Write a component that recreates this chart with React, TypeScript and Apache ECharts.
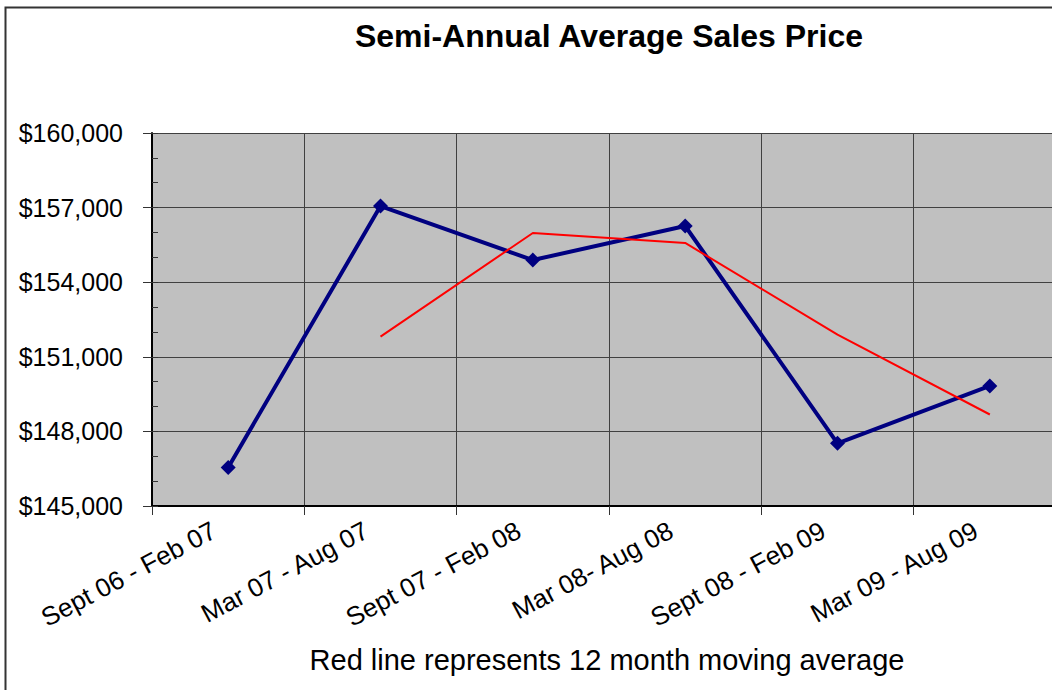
import React, { useEffect, useRef } from "react";
import * as echarts from "echarts";

const categories = [
  "Sept 06 - Feb 07",
  "Mar 07 - Aug 07",
  "Sept 07 - Feb 08",
  "Mar 08- Aug 08",
  "Sept 08 - Feb 09",
  "Mar 09 - Aug 09",
];
const avgPrice = [146550, 157060, 154890, 156260, 147520, 149830];
const movingAvg: (number | null)[] = [null, 151810, 155980, 155580, 151890, 148680];
const yMin = 145000;
const yMax = 160000;
const yStep = 3000;

const titleText = "Semi-Annual Average Sales Price";
const footerText = "Red line represents 12 month moving average";

const FONT = "'Liberation Sans', Arial, sans-serif";

export default function App() {
  const ref = useRef<HTMLDivElement>(null);
  useEffect(() => {
    if (!ref.current) return;
    const chart = echarts.init(ref.current, null, { renderer: "svg" });
    chart.setOption({
      animation: false,
      backgroundColor: "#ffffff",
      textStyle: { fontFamily: FONT },
      grid: {
        left: 152,
        right: 14,
        top: 133,
        bottom: 184,
        show: true,
        backgroundColor: "#c0c0c0",
        borderWidth: 0,
        containLabel: false,
      },
      xAxis: {
        type: "category",
        data: categories,
        boundaryGap: true,
        axisLine: { show: true, lineStyle: { color: "#000", width: 2 } },
        axisTick: { show: true, length: 9, lineStyle: { color: "#333", width: 1 } },
        splitLine: { show: true, lineStyle: { color: "#404040", width: 1 } },
        axisLabel: {
          rotate: 28,
          margin: 15,
          padding: [0, 16, 0, 0],
          fontSize: 26,
          color: "#000",
          fontFamily: FONT,
          interval: 0,
        },
      },
      yAxis: [
        {
          type: "value",
          min: yMin,
          max: yMax,
          interval: yStep,
          axisLine: { show: true, lineStyle: { color: "#000", width: 2 } },
          axisTick: { show: true, length: 9, lineStyle: { color: "#333", width: 1 } },
          splitLine: { show: true, lineStyle: { color: "#404040", width: 1 } },
          axisLabel: {
            margin: 29,
            fontSize: 25,
            color: "#000",
            fontFamily: FONT,
            formatter: (v: number) => "$" + v.toLocaleString("en-US"),
          },
        },
        {
          type: "value",
          min: yMin,
          max: yMax,
          interval: 1000,
          position: "left",
          offset: 0,
          axisLine: { show: false },
          axisTick: { show: true, inside: true, length: 6, lineStyle: { color: "#333", width: 1 } },
          splitLine: { show: false },
          axisLabel: { show: false },
        },
      ],
      series: [
        {
          type: "line",
          data: avgPrice,
          yAxisIndex: 0,
          lineStyle: { color: "#000080", width: 4 },
          itemStyle: { color: "#000080" },
          symbol: "diamond",
          symbolSize: 15,
          showSymbol: true,
          z: 3,
        },
        {
          type: "line",
          data: movingAvg,
          yAxisIndex: 0,
          lineStyle: { color: "#ff0000", width: 2 },
          itemStyle: { color: "#ff0000" },
          showSymbol: false,
          symbol: "none",
          connectNulls: false,
          z: 4,
        },
      ],
      graphic: [
        {
          type: "rect",
          shape: { x: 5.5, y: 7.5, width: 1200, height: 900 },
          style: { fill: "none", stroke: "#333", lineWidth: 2 },
          z: 100,
        },
        {
          type: "text",
          x: 609,
          y: 36,
          style: {
            text: titleText,
            font: `bold 32px ${FONT}`,
            fill: "#000",
            textAlign: "center",
            textVerticalAlign: "middle",
          },
        },
        {
          type: "text",
          x: 607,
          y: 660,
          style: {
            text: footerText,
            font: `29px ${FONT}`,
            fill: "#000",
            textAlign: "center",
            textVerticalAlign: "middle",
          },
        },
      ],
    });
    return () => chart.dispose();
  }, []);
  return (
    <div
      style={{
        position: "absolute",
        left: 0,
        top: 0,
        width: 1052,
        height: 690,
        overflow: "hidden",
      }}
    >
      <div ref={ref} style={{ width: 1080, height: 690 }} />
    </div>
  );
}
